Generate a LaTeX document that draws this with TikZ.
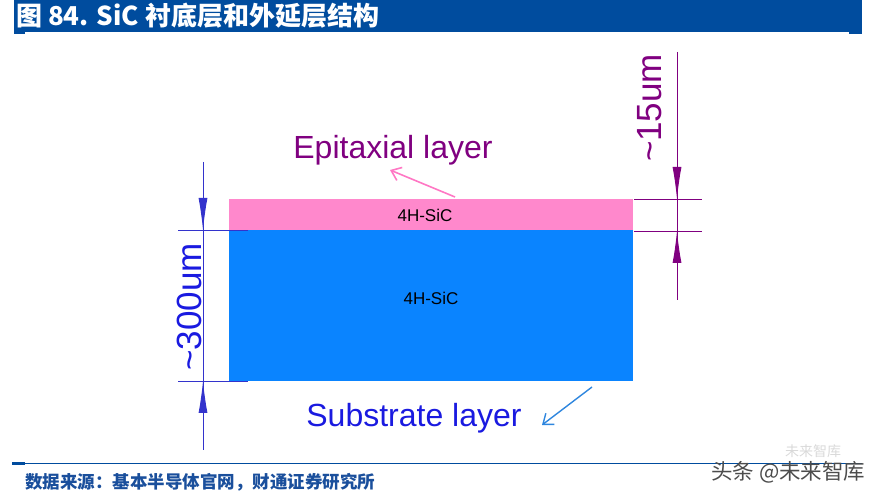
\documentclass[tikz,border=0pt]{standalone}
\usepackage{fontspec}
\setmainfont{Liberation Sans}
\newfontfamily\cjk{Noto Sans CJK SC}
\usetikzlibrary{arrows.meta}
\definecolor{barblue}{HTML}{004C9E}
\definecolor{epipink}{HTML}{FF88CC}
\definecolor{subblue}{HTML}{0A84FF}
\definecolor{dimblue}{HTML}{3333CC}
\definecolor{dimpurple}{HTML}{800080}
\definecolor{labblue}{HTML}{1A1AE0}
\definecolor{arrblue}{HTML}{2E86DE}
\definecolor{arrpink}{HTML}{FF77C4}
\definecolor{srcblue}{HTML}{1A4F9C}
\begin{document}
\begin{tikzpicture}[x=1pt,y=-1pt,
  layer/.style={inner sep=0pt,outer sep=0pt,minimum width=404pt,anchor=north west,draw=none},
  lbl/.style={inner sep=0pt,font=\fontsize{32}{36}\selectfont},
  dimlbl/.style={inner sep=0pt,font=\fontsize{35}{40}\selectfont,rotate=90},
  sic/.style={inner sep=0pt,font=\fontsize{17}{20}\selectfont,text=black},
  dimb/.style={draw=dimblue,line width=0.9pt},
  dimp/.style={draw=dimpurple,line width=0.9pt},
  tipb/.style={dimb,-{Latex[length=32pt,width=9pt]}},
  tipp/.style={dimp,-{Latex[length=32pt,width=9pt]}}]
\useasboundingbox (0,0) rectangle (889,502);
% title bar
\fill[barblue] (14,0) rectangle (862,32);
\fill[barblue] (14,32) rectangle (25,34);
\fill[barblue] (849,32) rectangle (862,34);
\node[anchor=west,inner sep=0pt,text=white,font=\cjk\bfseries\fontsize{26}{28}\selectfont] (title) at (16,16) {图 84. SiC 衬底层和外延层结构};
% layers
\node[layer,fill=epipink,minimum height=31pt] (epi) at (229,199) {};
\node[layer,fill=subblue,minimum height=151pt] (sub) at (229,230) {};
\node[sic] (epitext) at (425,215) {4H-SiC};
\node[sic] (subtext) at (431,298) {4H-SiC};
% left dimension
\coordinate (lt) at (203,162);
\coordinate (lb) at (203,450);
\coordinate (lta) at (203,196);
\coordinate (lba) at (203,416);
\coordinate (ltk) at (203,230);
\coordinate (lbk) at (203,381);
\coordinate (ltl) at (178,230);
\coordinate (ltr) at (248,230);
\coordinate (lbl) at (178,381);
\coordinate (lbr) at (248,381);
\draw[dimb] (lt) -- (lb);
\draw[dimb] (ltl) -- (ltr);
\draw[dimb] (lbl) -- (lbr);
\draw[tipb] (lta) -- (ltk);
\draw[tipb] (lba) -- (lbk);
\node[dimlbl,text=labblue] (t300) at (189,307) {\textasciitilde300um};
% right dimension
\coordinate (rt) at (677,52);
\coordinate (rb) at (677,300);
\coordinate (rta) at (677,165);
\coordinate (rba) at (677,267);
\coordinate (rtk) at (677,199);
\coordinate (rbk) at (677,231);
\coordinate (rtl) at (634,199);
\coordinate (rtr) at (702,199);
\coordinate (rbl) at (634,231);
\coordinate (rbr) at (702,231);
\draw[dimp] (rt) -- (rb);
\draw[dimp] (rtl) -- (rtr);
\draw[dimp] (rbl) -- (rbr);
\draw[tipp] (rta) -- (rtk);
\draw[tipp] (rba) -- (rbk);
\node[dimlbl,text=dimpurple] (t15) at (650,108) {\textasciitilde15um};
% labels and pointers
\node[lbl,text=dimpurple] (epilab) at (393,150) {Epitaxial layer};
\coordinate (epiarr) at (455,197);
\coordinate (epihead) at (390,170);
\draw[arrpink,line width=1.6pt,-{Straight Barb[length=9pt,width=14pt]}] (epiarr) -- (epihead);
\node[lbl,text=labblue] (sublab) at (414,418) {Substrate layer};
\coordinate (subarr) at (592,387);
\coordinate (subhead) at (542,425);
\draw[arrblue,line width=1.4pt,-{Straight Barb[length=9pt,width=14pt]}] (subarr) -- (subhead);
% footer
\draw[barblue,line width=0.8pt] (14,463) -- (862,463);
\fill[barblue] (12,462) rectangle (25,464.5);
\node[anchor=west,inner sep=0pt,text=srcblue,font=\cjk\bfseries\fontsize{17.5}{20}\selectfont] (src) at (25,482) {数据来源：基本半导体官网，财通证券研究所};
\node[anchor=west,inner sep=0pt,text=black!15,font=\cjk\fontsize{14}{16}\selectfont] (wm2) at (785,451) {未来智库};
\node[anchor=west,inner sep=0pt,text=black!70,font=\cjk\fontsize{21.5}{24}\selectfont] (wm) at (711,472) {头条 @未来智库};
\end{tikzpicture}
\end{document}
